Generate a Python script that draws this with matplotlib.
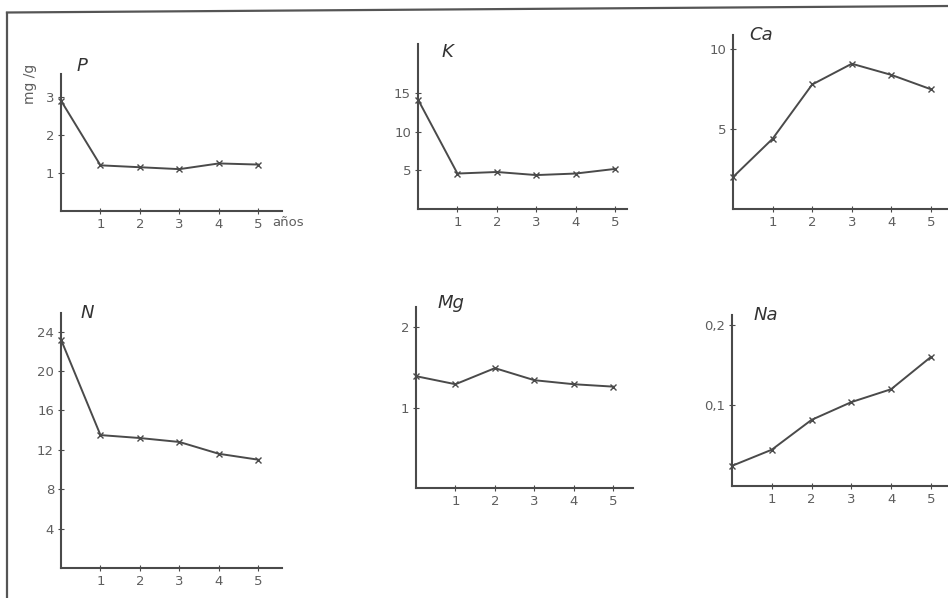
import matplotlib
matplotlib.use("Agg")
import matplotlib.pyplot as plt
from matplotlib.lines import Line2D

# values (mg/g against years)
years = [0, 1, 2, 3, 4, 5]
p_vals = [2.9, 1.2, 1.15, 1.1, 1.25, 1.22]
k_vals = [14.2, 4.6, 4.8, 4.4, 4.6, 5.2]
ca_vals = [2.0, 4.4, 7.8, 9.1, 8.4, 7.5]
n_vals = [23.2, 13.5, 13.2, 12.8, 11.6, 11.0]
mg_vals = [1.39, 1.29, 1.49, 1.34, 1.29, 1.26]
na_vals = [0.025, 0.045, 0.082, 0.104, 0.12, 0.16]

x_ticks = [1, 2, 3, 4, 5]
p_ticks = [1, 2, 3]
k_ticks = [5, 10, 15]
ca_ticks = [5, 10]
n_ticks = [4, 8, 12, 16, 20, 24]
mg_ticks = [1, 2]
na_ticks = [0.1, 0.2]
na_labels = ["0,1", "0,2"]

W, H = 948, 598
fig = plt.figure(figsize=(W / 100, H / 100), dpi=100)
fig.patch.set_facecolor("white")

INK = "#4a4a4a"
LABEL = "#5e5e5e"


def px_axes(x0, y0, x1, y1):
    # pixel box (left, bottom origin, right, top) -> figure fraction axes
    return fig.add_axes([x0 / W, 1 - y0 / H, (x1 - x0) / W, (y0 - y1) / H])


def panel(box, xmax, ymax, vals, yticks, title, title_pos, ylabels=None):
    ax = px_axes(*box)
    ax.plot(years, vals, "-", color=INK, lw=1.4, marker="x", ms=5, mew=1.0,
            clip_on=False)
    ax.set_xlim(0, xmax)
    ax.set_ylim(0, ymax)
    ax.set_xticks(x_ticks)
    ax.set_yticks(yticks)
    if ylabels is not None:
        ax.set_yticklabels(ylabels)
    for side in ("top", "right"):
        ax.spines[side].set_visible(False)
    for side in ("left", "bottom"):
        ax.spines[side].set_color(INK)
        ax.spines[side].set_linewidth(1.5)
    ax.tick_params(direction="inout", length=4, width=0.8, color=INK,
                   labelsize=9.5, labelcolor=LABEL, pad=3)
    ax.patch.set_alpha(0)
    ax.text(title_pos[0], title_pos[1], title, transform=ax.transAxes,
            fontsize=13, style="italic", color="#333333", ha="center", va="center")
    return ax


ax_p = panel((61, 211, 282, 74), 5.6, 3.6, p_vals, p_ticks, "P", (0.095, 1.06))
ax_k = panel((418, 209, 627, 44), 5.3, 21.4, k_vals, k_ticks, "K", (0.14, 0.95))
ax_ca = panel((733, 209, 948, 35), 5.43, 10.9, ca_vals, ca_ticks, "Ca", (0.13, 1.0))
ax_n = panel((61, 568, 282, 313), 5.6, 25.9, n_vals, n_ticks, "N", (0.118, 1.0))
ax_mg = panel((416, 488, 633, 307), 5.5, 2.25, mg_vals, mg_ticks, "Mg", (0.16, 1.02))
ax_na = panel((732, 486, 948, 315), 5.43, 0.212, na_vals, na_ticks, "Na", (0.155, 1.0),
              ylabels=na_labels)

ax_p.text(0.955, -0.085, "años", transform=ax_p.transAxes, fontsize=9.5,
          color=LABEL, ha="left", va="center", clip_on=False)
fig.text(30 / W, 1 - 84 / H, "mg /g", rotation=90, fontsize=10, color=LABEL,
         ha="center", va="center")

# page frame (left and top rules)
fig.add_artist(Line2D([7 / W, 7 / W], [0, 1 - 12.5 / H], color="#555555", lw=1.6))
fig.add_artist(Line2D([7 / W, 1], [1 - 12.5 / H, 1 - 6 / H], color="#555555", lw=1.6))

fig.savefig("out.png", dpi=100, facecolor="white")
